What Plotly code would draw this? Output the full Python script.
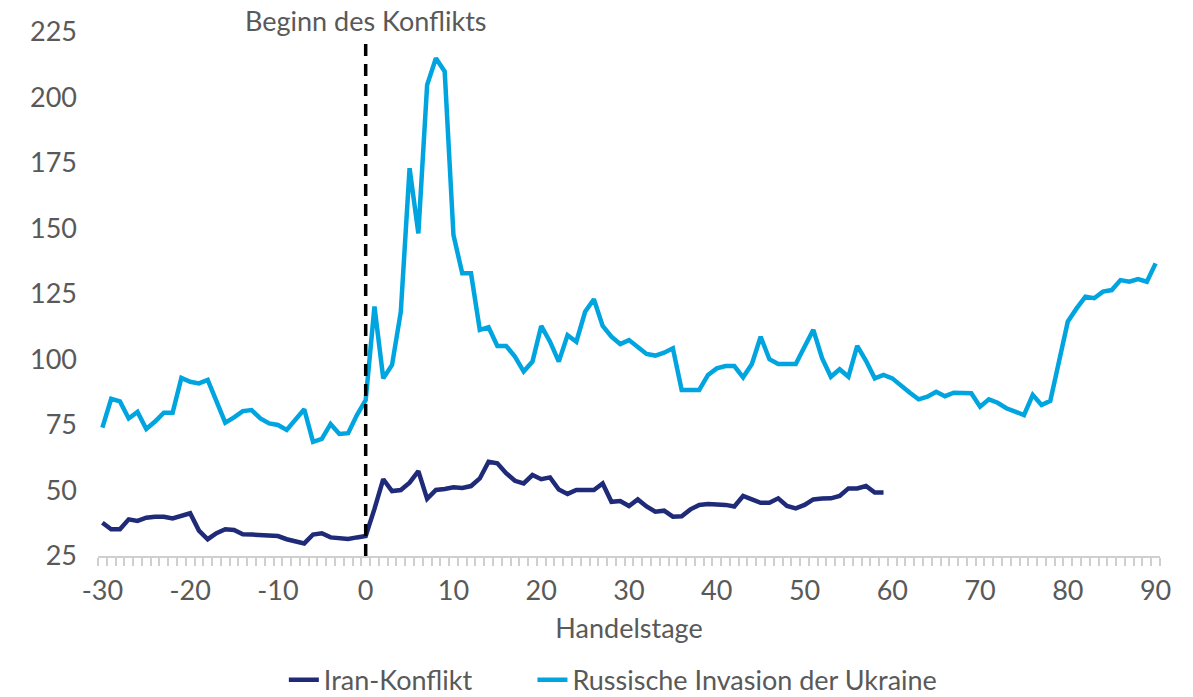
import plotly.graph_objects as go

# Handelstage relativ zum Konfliktbeginn
days_ukraine = list(range(-30, 91))
days_iran = list(range(-30, 60))

# Russische Invasion der Ukraine
ukraine = [
    74, 85, 84, 77.5, 80, 73.5, 76.3, 79.7, 79.7, 93, 91.5, 90.9, 92.2, 84.5, 75.9, 77.9,
    80.3, 80.7, 77.5, 75.6, 75, 73.1, 76.9, 81, 68.6, 69.7, 75.4, 71.6, 71.9, 78.8, 84.5,
    120.2, 92.8, 97.9, 118.2, 173, 148.1, 204.8, 215, 209.9, 147.5, 132.9, 132.9, 111.3,
    112.3, 105.2, 105.2, 101.1, 95.4, 99.2, 112.8, 106.8, 99.2, 109.3, 106.8, 118.2, 123,
    112.8, 108.7, 105.9, 107.4, 104.6, 102.1, 101.5, 102.6, 104.3, 88.4, 88.4, 88.4, 94.1,
    96.6, 97.5, 97.5, 93.2, 98.3, 108.7, 100.1, 98.3, 98.3, 98.3, 104.9, 111.3, 100.5,
    93.4, 96.3, 93.4, 105.2, 99.5, 92.8, 94.1, 92.8, 89.9, 87.3, 84.8, 85.8, 87.7, 86,
    87.3, 87.1, 87.1, 82, 84.8, 83.5, 81.4, 80.1, 78.8, 86.5, 82.6, 84.2, 99.2, 114.5,
    119.5, 124, 123.4, 125.9, 126.5, 130.3, 129.7, 130.7, 129.7, 136.7,
]

# Iran-Konflikt
iran = [
    37.7, 35.2, 35.2, 39, 38.4, 39.6, 40, 40, 39.3, 40.3, 41.3, 34.7, 31.4, 33.7, 35.2,
    34.9, 33.3, 33.2, 33, 32.6, 32.6, 31.4, 30.8, 29.8, 33.2, 33.7, 32.1, 31.8, 31.5,
    32.1, 32.6, 43, 54.3, 49.8, 50.2, 53, 57.4, 46.8, 50.2, 50.6, 51.2, 51, 51.7, 54.6,
    61, 60.4, 56.6, 53.7, 52.7, 55.9, 54.3, 55, 50.4, 48.7, 50.2, 50.2, 50.2, 52.7, 45.7,
    46, 44.1, 46.6, 43.9, 41.9, 42.3, 40, 40.2, 42.8, 44.5, 44.8, 44.8, 44.5, 43.9, 47.9,
    46.6, 45.3, 45.3, 47, 44.1, 43.2, 44.5, 46.6, 46.9, 47, 47.9, 50.8, 50.8, 51.7, 49.2,
    49.2,
]

x_ticks = list(range(-30, 91, 10))
x_labels = [str(v) for v in x_ticks]  # plain hyphen like the original

font_name = "Lato"
grey = "#595959"
axis_grey = "#cfcfcf"
fs = 27
pad = "\u00a0" * 8  # extra room after the first legend entry

fig = go.Figure()
fig.add_trace(go.Scatter(x=days_iran, y=iran, mode="lines", name="Iran-Konflikt" + pad,
                         line=dict(color="#1f2a78", width=4.5)))
fig.add_trace(go.Scatter(x=days_ukraine, y=ukraine, mode="lines",
                         name="Russische Invasion der Ukraine",
                         line=dict(color="#00a5e0", width=4.5)))

# Beginn des Konflikts
fig.add_shape(type="line", x0=0, x1=0, y0=25, y1=223, xref="x", yref="y",
              line=dict(color="black", width=3.5, dash="12px,8px"))
fig.add_annotation(x=0, y=1.0, xref="x", yref="paper", yshift=12, yanchor="middle",
                   text="Beginn des Konflikts", showarrow=False,
                   font=dict(family=font_name, size=fs, color=grey))

fig.update_layout(
    width=1193, height=697,
    paper_bgcolor="white", plot_bgcolor="white",
    margin=dict(l=98, r=33, t=32, b=141, autoexpand=False),
    font=dict(family=font_name, size=fs, color=grey),
    showlegend=True,
    legend=dict(orientation="h", x=0.175, xanchor="left", y=-0.237, yanchor="middle",
                font=dict(size=fs, color=grey), traceorder="normal"),
)
fig.update_xaxes(
    range=[-30.5, 90.5], tickmode="array", tickvals=x_ticks, ticktext=x_labels,
    showgrid=False, zeroline=False, showline=True, linecolor=axis_grey, linewidth=2,
    ticks="outside", ticklen=0, ticklabelstandoff=10,
    minor=dict(tickmode="linear", dtick=1, tick0=0.5, ticks="outside", ticklen=8,
               tickcolor=axis_grey, tickwidth=1.5, showgrid=False),
    tickfont=dict(size=fs, color=grey),
    title=dict(text="Handelstage", font=dict(size=fs, color=grey), standoff=14),
)
fig.update_yaxes(
    range=[25, 225], tickmode="linear", tick0=25, dtick=25,
    showgrid=False, zeroline=False, showline=False, ticks="",
    tickfont=dict(size=fs, color=grey), ticklabelstandoff=20,
)

fig.write_html("out.html", config={"displayModeBar": False},
               post_script="document.body.style.margin='0';")
